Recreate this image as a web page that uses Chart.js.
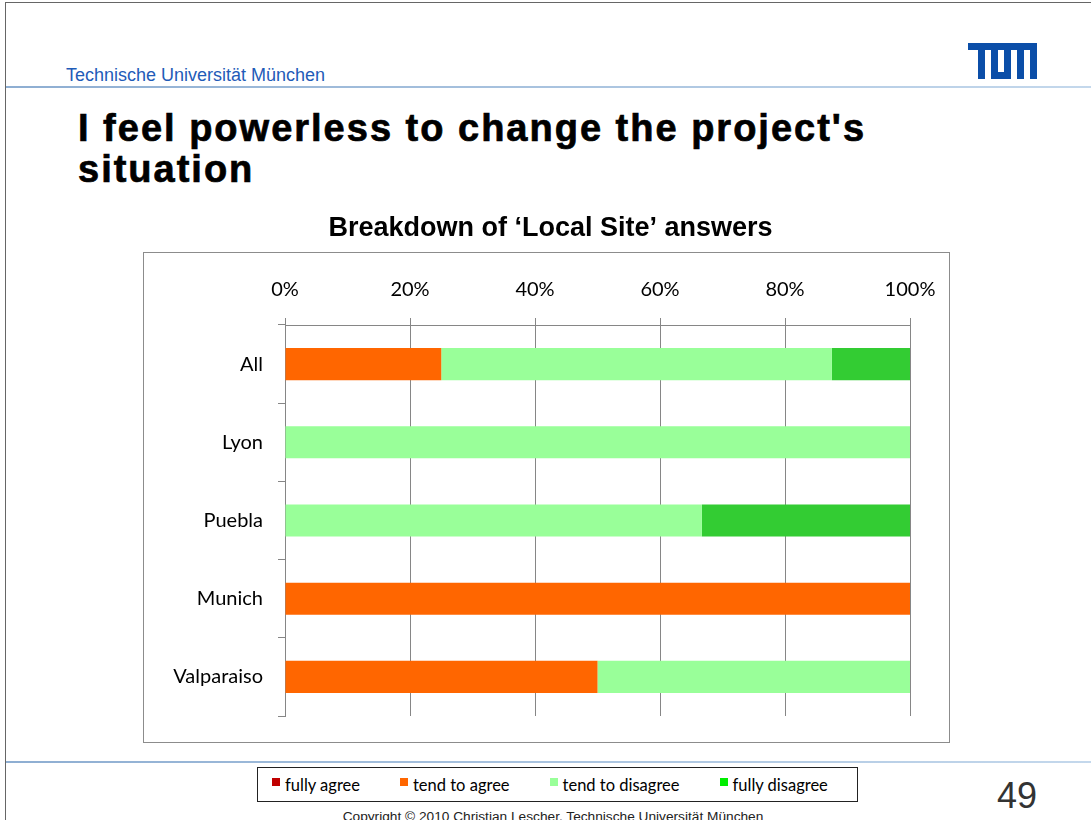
<!DOCTYPE html>
<html>
<head>
<meta charset="utf-8">
<title>I feel powerless to change the project's situation</title>
<script src="https://cdn.jsdelivr.net/npm/chart.js@4.4.0/dist/chart.umd.min.js"></script>
<style>
  body { margin: 0; width: 1091px; height: 820px; position: relative; overflow: hidden; background: #fff; font-family: "Liberation Sans", Arial, sans-serif; }
  .frame-top { position: absolute; left: 5px; top: 2px; right: 0; height: 1px; background: #666; }
  .frame-left { position: absolute; left: 5px; top: 2px; bottom: 0; width: 1px; background: #666; }
  .uni { position: absolute; left: 66px; top: 66px; font-size: 18px; line-height: 18px; color: #1f5bb8; white-space: nowrap; }
  .rule { position: absolute; left: 6px; right: 0; height: 2px; background: linear-gradient(to right, #8eaed2, #c4d8ec); }
  .logo { position: absolute; left: 968px; top: 43px; }
  .slide-title { position: absolute; left: 78px; top: 108px; font-size: 38px; line-height: 41px; font-weight: 900; letter-spacing: 2px; -webkit-text-stroke: 0.7px #000; color: #000; white-space: nowrap; }
  #chartWrap { position: absolute; left: 143px; top: 205px; width: 815px; height: 538px; }
  .legend { position: absolute; left: 257px; top: 767px; width: 585px; height: 33px; border: 1px solid #222; display: flex; align-items: center; padding-left: 14px; font-family: Lato, sans-serif; font-size: 16.5px; color: #000; }
  .legend .item { display: flex; align-items: flex-start; margin-right: 40px; white-space: nowrap; }
  .legend .sw { width: 8px; height: 8px; margin-right: 5px; margin-top: 3px; }
  .page { position: absolute; left: 997px; top: 778px; font-size: 36px; line-height: 36px; color: #333; }
  .copy { position: absolute; left: 0; width: 1106px; top: 809px; text-align: center; font-size: 13.7px; line-height: 15px; color: #222; white-space: nowrap; }
</style>
</head>
<body>
<div class="frame-top"></div>
<div class="frame-left"></div>
<div class="uni">Technische Universität München</div>
<svg class="logo" width="69" height="36" viewBox="0 0 69 36">
  <path fill="#0b4ea8" d="M0 0H69V36H62V7H56V36H49V7H43V36H23V7H17V36H10V7H0Z M30 7H36V29H30Z" fill-rule="evenodd"/>
</svg>
<div class="rule" style="top:86px"></div>
<div class="slide-title">I feel powerless to change the project's<br>situation</div>

<div id="chartWrap"><canvas id="myChart" width="815" height="538"></canvas></div>

<div class="rule" style="top:761px"></div>
<div class="legend" id="legend"></div>
<div class="page">49</div>
<div class="copy">Copyright © 2010 Christian Lescher, Technische Universität München</div>

<script>
// categories and answers (percent of each site)
const sites = ["All", "Lyon", "Puebla", "Munich", "Valparaiso"];
const fullyAgree = [0, 0, 0, 0, 0];
const tendToAgree = [25, 0, 0, 100, 50];
const tendToDisagree = [62.5, 100, 66.7, 0, 50];
const fullyDisagree = [12.5, 0, 33.3, 0, 0];
const xTicks = [0, 20, 40, 60, 80, 100];

const seriesLabels = ["fully agree", "tend to agree", "tend to disagree", "fully disagree"];
const barColors = ["#c00000", "#ff6600", "#99ff99", "#33cc33"];
const legendColors = ["#c00000", "#ff6600", "#99ff99", "#00ee00"];

const gridGrey = "#868686";

// draws the grey frame round the plot (below the title)
const chartBox = {
  id: "chartBox",
  beforeDraw(chart) {
    const c = chart.ctx;
    c.save();
    c.strokeStyle = "#8c8c8c";
    c.lineWidth = 1;
    c.strokeRect(0.5, 47.5, 806, chart.height - 48);
    c.restore();
  }
};

const allSeries = [fullyAgree, tendToAgree, tendToDisagree, fullyDisagree];

var ctx = document.getElementById("myChart").getContext("2d");
var chart = new Chart(ctx, {
  type: "bar",
  data: {
    labels: sites,
    datasets: allSeries.map((values, i) => ({
      label: seriesLabels[i],
      data: values,
      backgroundColor: barColors[i],
      borderWidth: 0,
      barPercentage: 0.41,
      categoryPercentage: 1
    }))
  },
  plugins: [chartBox],
  options: {
    indexAxis: "y",
    responsive: false,
    animation: false,
    layout: { padding: { left: 0, right: 0, top: 0, bottom: 26 } },
    plugins: {
      legend: { display: false },
      tooltip: { enabled: false },
      title: {
        display: true,
        text: "Breakdown of ‘Local Site’ answers",
        color: "#000",
        font: { family: "Liberation Sans", size: 27, weight: "bold" },
        padding: { top: 7, bottom: 7.6 }
      }
    },
    scales: {
      x: {
        position: "top",
        stacked: true,
        min: 0,
        max: 100,
        afterBuildTicks: s => { s.ticks = xTicks.map(v => ({ value: v })); },
        ticks: {
          callback: v => v + "%",
          color: "#000",
          font: { family: "Lato", size: 20 },
          padding: 16,
          maxRotation: 0
        },
        grid: { color: gridGrey, tickLength: 7 },
        border: { color: gridGrey },
        afterFit: s => { s.height = 73; }
      },
      y: {
        stacked: true,
        ticks: {
          color: "#000",
          font: { family: "Lato", size: 20 },
          padding: 15
        },
        grid: { offset: true, drawOnChartArea: false, tickLength: 7, color: gridGrey },
        border: { color: gridGrey },
        afterFit: s => { s.width = 142; }
      },
      // empty right-hand axis, only keeps room right of the plot
      yRight: {
        type: "category",
        axis: "y",
        position: "right",
        ticks: { display: false },
        grid: { display: false },
        border: { display: false },
        afterFit: s => { s.width = 48; }
      }
    }
  }
});

// legend under the chart
const legendDiv = document.getElementById("legend");
seriesLabels.forEach((name, i) => {
  const item = document.createElement("div");
  item.className = "item";
  item.innerHTML = `<span class="sw" style="background:${legendColors[i]}"></span><span>${name}</span>`;
  legendDiv.appendChild(item);
});
</script>
</body>
</html>
